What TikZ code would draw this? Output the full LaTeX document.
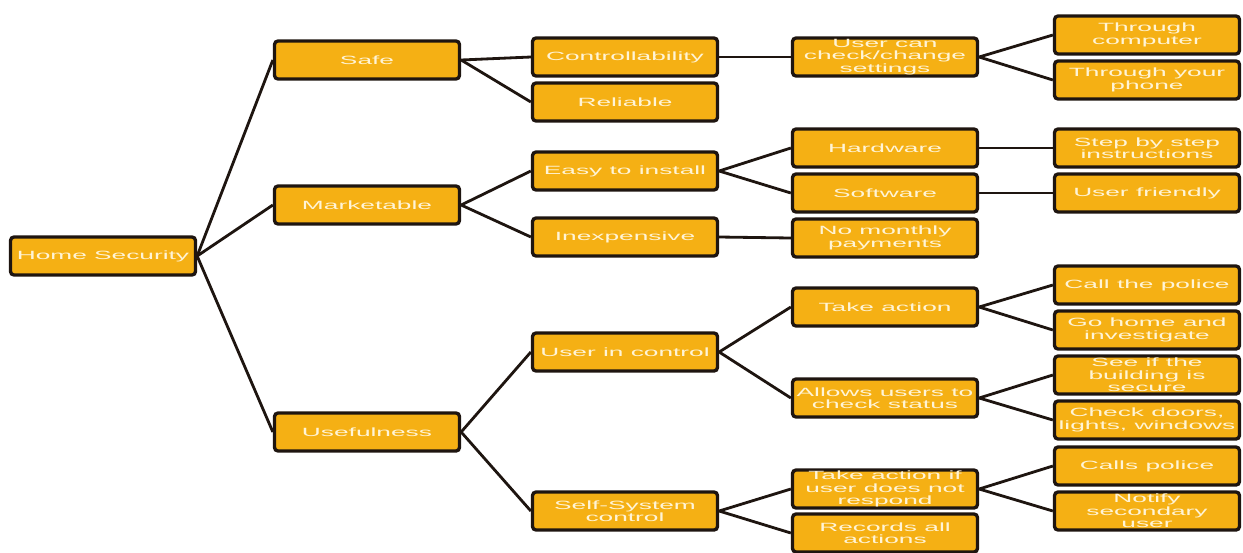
\documentclass[tikz,border=0pt]{standalone}
\usepackage{fontspec}
\usepackage{xcolor}
\usepackage{tikz}
\usetikzlibrary{positioning}
\newfontfamily\boxfont[FakeStretch=2.2]{Liberation Sans}
\definecolor{boxorange}{HTML}{F5B014}
\definecolor{boxedge}{HTML}{1E1510}
\definecolor{boxtext}{HTML}{FFF4D6}

\begin{document}
\begin{tikzpicture}[x=0.02cm, y=-0.02cm,
    box/.style={rectangle, rounded corners=0.07cm, draw=boxedge, line width=1.9pt, fill=boxorange,
        minimum width=3.7cm, minimum height=0.76cm, inner sep=0pt, align=center,
        text=boxtext, font=\boxfont\fontsize{6.8}{7}\selectfont},
    link/.style={draw=boxedge, line width=1.6pt}
]
    \useasboundingbox (0,0) rectangle (1243,552);

    % Root
    \node[box] (hs) at (103,256) {Home Security};

    % Level 1
    \node[box] (safe) at (367,60) {Safe};
    \node[box] (mkt) at (367,205) {Marketable};
    \node[box] (use) at (367,432) {Usefulness};

    % Level 2
    \node[box] (ctrl) at (625,57) {Controllability};
    \node[box] (rel) at (625,102) {Reliable};
    \node[box] (easy) at (625,171) {Easy to install};
    \node[box] (inexp) at (625,237) {Inexpensive};
    \node[box] (uic) at (625,352) {User in control};
    \node[box] (ssc) at (625,511) {Self-System\\control};

    % Level 3
    \node[box] (chk) at (885,57) {User can\\check/change\\settings};
    \node[box] (hw) at (885,148) {Hardware};
    \node[box] (sw) at (885,193) {Software};
    \node[box] (nomp) at (885,238) {No monthly\\payments};
    \node[box] (tact) at (885,307) {Take action};
    \node[box] (allow) at (885,398) {Allows users to\\check status};
    \node[box] (tactif) at (885,489) {Take action if\\user does not\\respond};
    \node[box] (rec) at (885,533) {Records all\\actions};

    % Level 4
    \node[box] (comp) at (1147,35) {Through\\computer};
    \node[box] (phone) at (1147,80) {Through your\\phone};
    \node[box] (steps) at (1147,148) {Step by step\\instructions};
    \node[box] (friendly) at (1147,193) {User friendly};
    \node[box] (callp) at (1147,285) {Call the police};
    \node[box] (gohome) at (1147,330) {Go home and\\investigate};
    \node[box] (seeif) at (1147,375) {See if the\\building is\\secure};
    \node[box] (doors) at (1147,420) {Check doors,\\lights, windows};
    \node[box] (callsp) at (1147,466) {Calls police};
    \node[box] (notify) at (1147,511) {Notify\\secondary\\user};

    % Links
    \foreach \a/\b in {hs/safe, hs/mkt, hs/use,
        safe/ctrl, safe/rel, mkt/easy, mkt/inexp, use/uic, use/ssc,
        ctrl/chk, easy/hw, easy/sw, inexp/nomp, uic/tact, uic/allow, ssc/tactif, ssc/rec,
        chk/comp, chk/phone, hw/steps, sw/friendly, tact/callp, tact/gohome,
        allow/seeif, allow/doors, tactif/callsp, tactif/notify}
        \draw[link] (\a.east) -- (\b.west);
\end{tikzpicture}
\end{document}
